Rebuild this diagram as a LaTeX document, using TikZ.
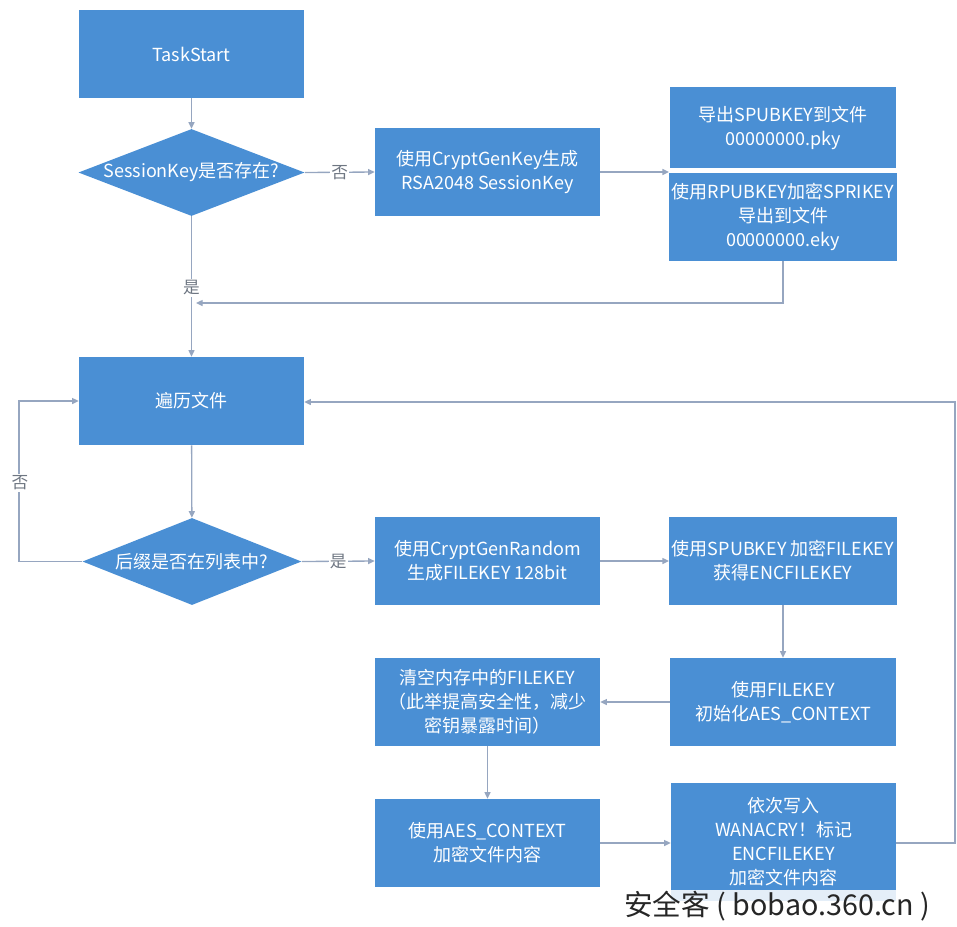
\documentclass[tikz,border=0pt]{standalone}
\usepackage{fontspec}
\setmainfont{Noto Sans CJK SC}
\usetikzlibrary{arrows.meta,shapes.geometric,calc}
\definecolor{boxblue}{RGB}{74,143,212}
\definecolor{linegray}{RGB}{150,166,192}
\definecolor{labgray}{RGB}{110,118,130}
\tikzset{
  box/.style={rectangle, fill=boxblue, text=white, align=center, inner sep=2pt,
    minimum width=168.75pt, minimum height=66pt,
    font=\fontsize{13.5}{18}\selectfont},
  dec/.style={diamond, fill=boxblue, text=white, inner sep=0pt,
    minimum width=165.75pt, minimum height=63.75pt, aspect=2.6,
    font=\fontsize{13.5}{18}\selectfont},
  conn/.style={draw=linegray, line width=1pt, -{Triangle[length=5pt,width=4.5pt]}},
  plain/.style={draw=linegray, line width=1pt},
  lab/.style={fill=white, text=labgray, inner sep=1pt, font=\fontsize{12.5}{14}\selectfont}
}
\begin{document}
\begin{tikzpicture}[x=0.75pt,y=-0.75pt]
\useasboundingbox (0,0) rectangle (957,926);
% nodes
\node[box] (start) at (191.5,54) {TaskStart};
\node[dec] (d1) at (191.5,172.5) {SessionKey是否存在?};
\node[box] (gen) at (487.5,172) {使用CryptGenKey生成\\RSA2048 SessionKey};
\node[box, minimum width=169.5pt, minimum height=60.75pt] (pky) at (783,127.5) {导出SPUBKEY到文件\\00000000.pky};
\node[box, minimum width=169.5pt] (eky) at (783,217) {使用RPUBKEY加密SPRIKEY\\导出到文件\\00000000.eky};
\node[box] (trav) at (191.5,401) {遍历文件};
\node[dec, minimum width=164.25pt, minimum height=65.25pt] (d2) at (192,561.5) {后缀是否在列表中?};
\node[box] (rand) at (487.5,561) {使用CryptGenRandom\\生成FILEKEY 128bit};
\node[box, minimum width=169.5pt] (enc) at (783,561) {使用SPUBKEY 加密FILEKEY\\获得ENCFILEKEY};
\node[box, minimum width=169.5pt] (init) at (783,702) {使用FILEKEY\\初始化AES\_CONTEXT};
\node[box] (clear) at (487.5,702) {清空内存中的FILEKEY\\（此举提高安全性，减少\\密钥暴露时间）};
\node[box] (aes) at (487.5,843) {使用AES\_CONTEXT\\加密文件内容};
\node[box, minimum width=168.75pt, minimum height=88.5pt] (write) at (783.5,842) {依次写入\\WANACRY！标记\\ENCFILEKEY\\加密文件内容};
% coordinates
\coordinate (merge) at (196,303);
\coordinate (lc) at (19,401);
\coordinate (rc) at (955,402);
% connectors
\draw[conn] (start) -- (d1);
\draw[conn] (d1.east) -- node[lab]{否} (gen.west);
\draw[conn] (gen.east) -- (gen.east -| eky.west);
\draw[conn] (eky.south) |- (merge);
\draw[conn] (d1.south) -- (trav.north);
\node[lab] (yes1) at (191.5,288) {是};
\draw[conn] (trav) -- (d2);
\draw[conn] (d2.west) -| (lc) -- (trav.west);
\node[lab] (no2) at (20,483) {否};
\draw[conn] (d2.east) -- node[lab]{是} (rand.west);
\draw[conn] (rand) -- (enc);
\draw[conn] (enc) -- (init);
\draw[conn] (init) -- (clear);
\draw[conn] (clear) -- (aes);
\draw[conn] (aes.east) -- (aes.east -| write.west);
\draw[conn] (write.east |- aes.east) -| (rc) -- (trav.east |- rc);
% watermark
\node[fill=white, fill opacity=0.85, text opacity=1, text=black!85, inner sep=1pt,
  font=\fontsize{21.5}{24}\selectfont] (wm) at (777,906) {安全客 ( bobao.360.cn )};
\end{tikzpicture}
\end{document}
